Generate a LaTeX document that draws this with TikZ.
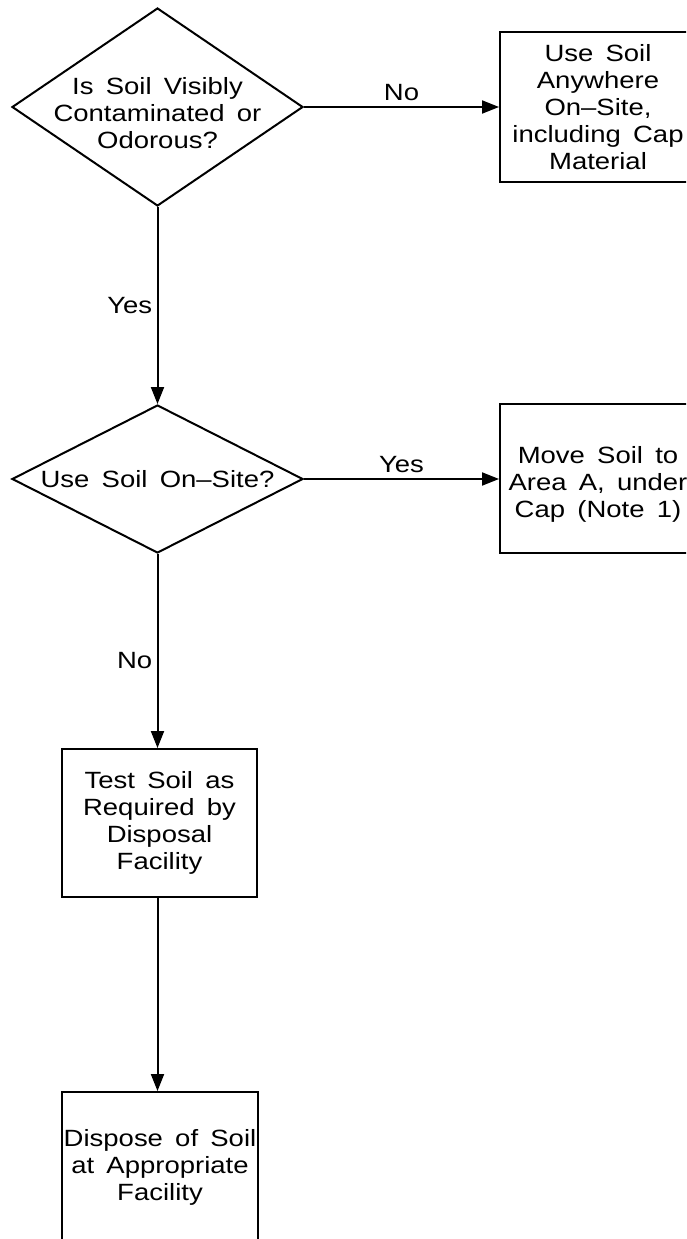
\documentclass[tikz,border=0pt]{standalone}
\usepackage{fontspec}
\setmainfont{Liberation Sans}[FakeStretch=1.17,WordSpace=1.6]
\usetikzlibrary{shapes.geometric,arrows.meta}
\begin{document}
\begin{tikzpicture}[x=1pt,y=-1pt,
  txt/.style={font=\fontsize{23.5}{27}\selectfont},
  every node/.style={txt},
  arr/.style={line width=2pt,-{Triangle[length=17pt,width=13pt]}},
  dia/.style={draw,line width=2pt,shape=diamond,inner sep=0pt,align=center},
  proc/.style={draw,line width=2pt,rectangle,inner sep=0pt,align=center,minimum width=196pt}
]
\useasboundingbox (0,0) rectangle (686,1239);
\clip (0,0) rectangle (686,1239);
\node[dia,minimum width=291pt,minimum height=198pt,
  label={[align=center,txt,yshift=-6pt]center:Is Soil Visibly\\Contaminated or\\Odorous?}] (d1) at (157.5,107) {};
\node[dia,minimum width=291pt,minimum height=148pt,
  label={[align=center,txt]center:Use Soil On--Site?}] (d2) at (157.5,479) {};
\node[proc,minimum height=150pt] (b1) at (598,107) {Use Soil\\Anywhere\\On--Site,\\including Cap\\Material};
\node[proc,minimum height=149pt,
  label={[align=center,txt,yshift=-6pt]center:Move Soil to\\Area A, under\\Cap (Note 1)}] (b2) at (598,478.5) {};
\node[proc,minimum width=195pt,minimum height=148pt] (b3) at (159.5,823) {Test Soil as\\Required by\\Disposal\\Facility};
\node[proc,minimum height=150pt] (b4) at (160,1167) {Dispose of Soil\\at Appropriate\\Facility};
\draw[arr] (d1.east) -- (d1.east -| b1.west) node[midway,above=2pt] (l1) {No};
\draw[arr] (d1.south) -- (d2.north) node[pos=0.5,left=1pt] (l2) {Yes};
\draw[arr] (d2.east) -- (d2.east -| b2.west) node[midway,above=2pt] (l3) {Yes};
\draw[arr] (d2.south) -- (d2.south |- b3.north) node[pos=0.55,left=1pt] (l4) {No};
\draw[arr] (b3.south -| d2.south) -- (d2.south |- b4.north);
\end{tikzpicture}
\end{document}
